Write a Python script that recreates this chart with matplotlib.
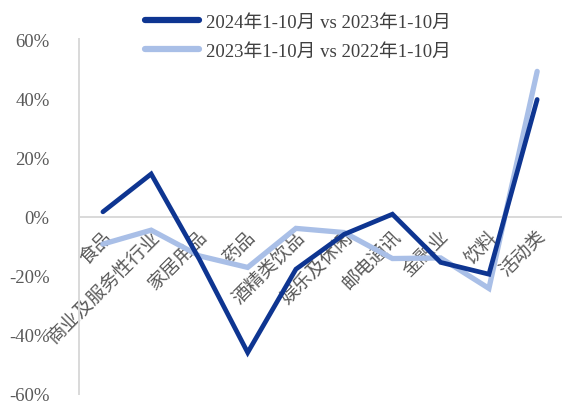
import numpy as np
import matplotlib
matplotlib.use('Agg')
import matplotlib.pyplot as plt
from matplotlib.ticker import FixedLocator, FuncFormatter

plt.rcParams['font.family'] = ['Liberation Serif', 'Noto Sans CJK SC', 'DejaVu Sans']

categories = ['食品', '商业及服务性行业', '家居用品', '药品', '酒精类饮品',
              '娱乐及休闲', '邮电通讯', '金融业', '饮料', '活动类']
growth_2024 = [1.6, 14.4, -14.5, -46.0, -17.8, -6.0, 0.8, -15.5, -19.5, 39.6]
growth_2023 = [-9.3, -4.6, -13.3, -17.2, -4.0, -5.4, -14.2, -14.0, -24.3, 49.1]
label_2024 = '2024年1-10月 vs 2023年1-10月'
label_2023 = '2023年1-10月 vs 2022年1-10月'
y_ticks = [-60, -40, -20, 0, 20, 40, 60]

dark = '#0E3591'
light = '#A9BFE7'
grey = '#D9D9D9'
text_grey = '#595959'

fig = plt.figure(figsize=(5.71, 4.14), dpi=100)
ax = fig.add_axes([0.138, 0.046, 0.845, 0.857])

x = np.arange(len(categories))
ax.plot(x, growth_2024, color=dark, lw=3.4, solid_capstyle='round',
        solid_joinstyle='miter', label=label_2024, zorder=3)
ax.plot(x, growth_2023, color=light, lw=3.8, solid_capstyle='round',
        solid_joinstyle='miter', label=label_2023, zorder=2)

ax.set_xlim(-0.5, len(categories) - 0.5)
ax.set_ylim(-60, 60)

ax.spines['top'].set_visible(False)
ax.spines['right'].set_visible(False)
ax.spines['left'].set_color(grey)
ax.spines['left'].set_linewidth(1.4)
ax.spines['bottom'].set_position(('data', 0))
ax.spines['bottom'].set_color(grey)
ax.spines['bottom'].set_linewidth(1.4)

ax.yaxis.set_major_locator(FixedLocator(y_ticks))
ax.yaxis.set_major_formatter(FuncFormatter(lambda v, p: '%d%%' % v))
ax.tick_params(axis='y', length=0, pad=21, labelsize=13.5, labelcolor=text_grey)

ax.set_xticks(x)
ax.set_xticklabels(categories, rotation=45, ha='right', va='top',
                   rotation_mode='anchor')
ax.tick_params(axis='x', length=0, pad=8, labelsize=13.5, labelcolor=text_grey)

leg = fig.legend(loc='upper center', bbox_to_anchor=(0.521, 1.005), ncol=1,
                 frameon=False, fontsize=13.5, handlelength=2.9,
                 handletextpad=0.35, labelspacing=0.62, labelcolor='#404040')
for line in leg.get_lines():
    line.set_linewidth(4.5)

fig.savefig('out.png', dpi=100)
